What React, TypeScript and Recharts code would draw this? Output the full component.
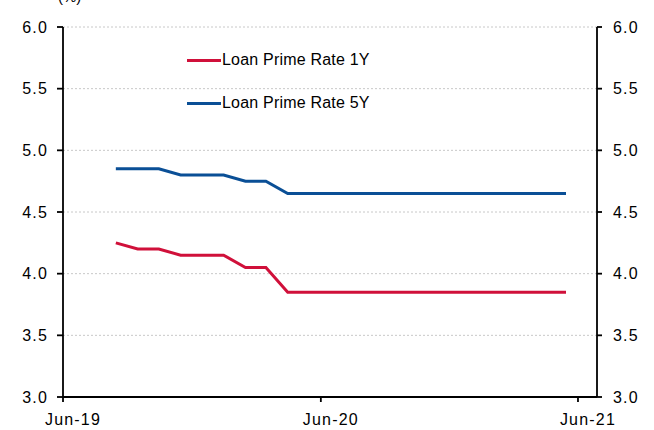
import React from "react"
import { LineChart, Line, XAxis, YAxis, CartesianGrid, Legend } from "recharts"

// monthly LPR fixings, plotted mid-month
const dates = [
    "2019-08-15", "2019-09-15", "2019-10-15", "2019-11-15", "2019-12-15",
    "2020-01-15", "2020-02-15", "2020-03-15", "2020-04-15", "2020-05-15",
    "2020-06-15", "2020-07-15", "2020-08-15", "2020-09-15", "2020-10-15",
    "2020-11-15", "2020-12-15", "2021-01-15", "2021-02-15", "2021-03-15",
    "2021-04-15", "2021-05-15",
]
const lpr1y = [
    4.25, 4.2, 4.2, 4.15, 4.15, 4.15, 4.05, 4.05, 3.85, 3.85, 3.85,
    3.85, 3.85, 3.85, 3.85, 3.85, 3.85, 3.85, 3.85, 3.85, 3.85, 3.85,
]
const lpr5y = [
    4.85, 4.85, 4.85, 4.8, 4.8, 4.8, 4.75, 4.75, 4.65, 4.65, 4.65,
    4.65, 4.65, 4.65, 4.65, 4.65, 4.65, 4.65, 4.65, 4.65, 4.65, 4.65,
]
const xTicks = ["2019-06-01", "2020-06-01", "2021-06-01"]
const xTickLabels = ["Jun-19", "Jun-20", "Jun-21"]
const yTicks = [3.0, 3.5, 4.0, 4.5, 5.0, 5.5, 6.0]

const series = [
    { key: "y1", name: "Loan Prime Rate 1Y", color: "#d0103a", axis: "left" },
    { key: "y5", name: "Loan Prime Rate 5Y", color: "#0a4f96", axis: "right" },
]

const ts = (s: string) => Date.parse(s + "T00:00:00Z")

const data = dates.map((d, i) => ({ t: ts(d), y1: lpr1y[i], y5: lpr5y[i] }))
const tickTs = xTicks.map(ts)

const font = "'Liberation Sans', Arial, sans-serif"
const tickStyle = { fontFamily: font, fontSize: 16, fill: "#000", letterSpacing: 1.2 }

function LegendBox() {
    return (
        <div style={{ fontFamily: font, fontSize: 16, letterSpacing: 0.2, color: "#000" }}>
            {series.map((s, i) => (
                <div key={s.key} style={{ display: "flex", alignItems: "center", height: 20, marginBottom: i === 0 ? 23 : 0 }}>
                    <span style={{ display: "inline-block", width: 34, height: 3, background: s.color }} />
                    <span style={{ marginLeft: 1 }}>{s.name}</span>
                </div>
            ))}
        </div>
    )
}

function XTick(props: any) {
    const { x, y, payload } = props
    const idx = tickTs.indexOf(payload.value)
    return (
        <text x={x + 10} y={y + 21} textAnchor="middle" {...tickStyle}>
            {xTickLabels[idx]}
        </text>
    )
}

export default function App() {
    return (
        <div style={{ position: "absolute", left: 0, top: 0, width: 654, height: 430, background: "#fff", overflow: "hidden" }}>
            <div style={{ position: "absolute", left: 58, top: -12, fontFamily: font, fontSize: 15 }}>(%)</div>
            <LineChart width={654} height={430} data={data} margin={{ top: 27, right: 0, left: 0, bottom: 0 }}>
                <CartesianGrid vertical={false} stroke="#c8c8c8" strokeDasharray="2 2" yAxisId="left" />
                <XAxis
                    dataKey="t"
                    type="number"
                    scale="time"
                    domain={[ts("2019-06-01"), ts("2021-06-28")]}
                    ticks={tickTs}
                    height={33}
                    tick={<XTick />}
                    tickSize={5}
                    stroke="#000"
                    strokeWidth={1.8}
                    allowDataOverflow
                />
                <YAxis
                    yAxisId="left"
                    domain={[3, 6]}
                    ticks={yTicks}
                    width={63}
                    tickFormatter={(v: number) => v.toFixed(1)}
                    tick={tickStyle}
                    tickSize={6}
                    tickMargin={9}
                    stroke="#000"
                    strokeWidth={1.8}
                />
                <YAxis
                    yAxisId="right"
                    orientation="right"
                    domain={[3, 6]}
                    ticks={yTicks}
                    width={57}
                    tickFormatter={(v: number) => v.toFixed(1)}
                    tick={tickStyle}
                    tickSize={5}
                    tickMargin={11}
                    stroke="#000"
                    strokeWidth={1.8}
                />
                <Legend
                    layout="vertical"
                    verticalAlign="middle"
                    align="center"
                    wrapperStyle={{ left: 187, top: 50, width: 260 }}
                    content={() => <LegendBox />}
                />
                {series.map((s) => (
                    <Line
                        key={s.key}
                        yAxisId={s.axis}
                        type="linear"
                        dataKey={s.key}
                        name={s.name}
                        stroke={s.color}
                        strokeWidth={3}
                        dot={false}
                        isAnimationActive={false}
                    />
                ))}
            </LineChart>
        </div>
    )
}
